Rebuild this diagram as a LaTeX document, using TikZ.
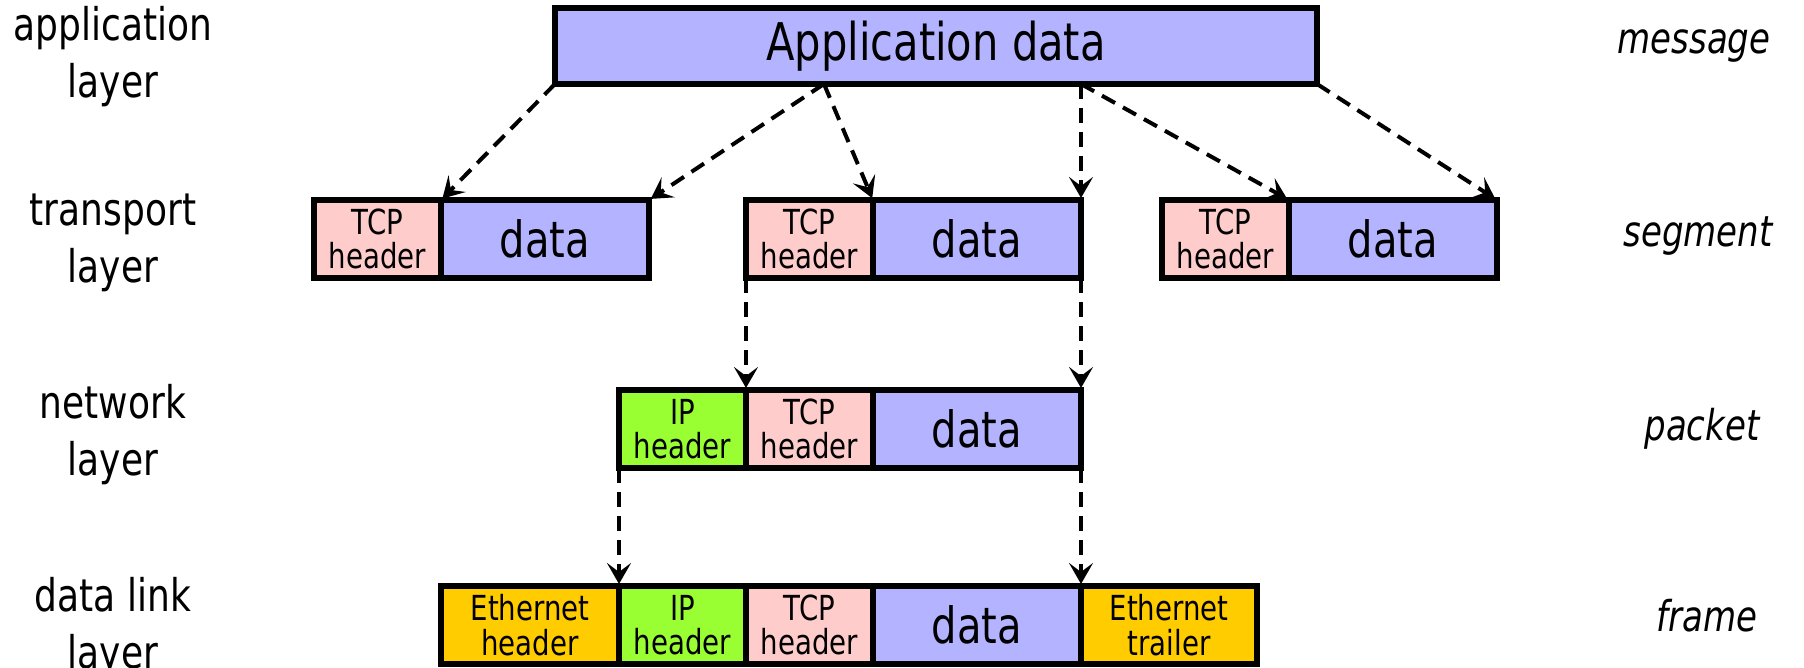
\documentclass[tikz,border=0pt]{standalone}
\usepackage{fontspec}
\setmainfont{DejaVu Sans}[FakeStretch=0.8]
\usetikzlibrary{arrows.meta}

\definecolor{dblue}{RGB}{179,179,255}
\definecolor{tpink}{RGB}{255,204,204}
\definecolor{ipgreen}{RGB}{153,255,51}
\definecolor{ethyellow}{RGB}{255,204,0}

\begin{document}
\begin{tikzpicture}[x=1pt,y=-1pt,
  cell/.style={draw=black, line width=5.5pt, inner sep=0pt, outer sep=0pt,
               anchor=north west, align=center, minimum height=78},
  hdr/.style={cell, font=\fontsize{34.5}{34.5}\selectfont},
  big/.style={cell, font=\fontsize{50}{55}\selectfont},
  layer/.style={align=center, font=\fontsize{45}{57}\selectfont},
  unit/.style={anchor=base, font=\fontsize{42.5}{46}\selectfont\itshape},
  flow/.style={line width=4pt, dash pattern=on 15pt off 9pt,
               -{Stealth[length=21pt,width=24pt,inset=9pt]}, shorten >=2pt}
]
\useasboundingbox (0,0) rectangle (1804,668);

% application layer: the message
\node[big, fill=dblue, minimum width=762, minimum height=76,
      font=\fontsize{52}{56}\selectfont] (app) at (555,8) {Application data};

% transport layer: three segments
\node[hdr, fill=tpink, minimum width=127] (s1h) at (314,200) {TCP\\header};
\node[big, fill=dblue, minimum width=208] (s1d) at (441,200) {data};
\node[hdr, fill=tpink, minimum width=127] (s2h) at (746,200) {TCP\\header};
\node[big, fill=dblue, minimum width=208] (s2d) at (873,200) {data};
\node[hdr, fill=tpink, minimum width=127] (s3h) at (1162,200) {TCP\\header};
\node[big, fill=dblue, minimum width=208] (s3d) at (1289,200) {data};

% network layer: the packet
\node[hdr, fill=ipgreen, minimum width=127] (nip) at (619,390) {IP\\header};
\node[hdr, fill=tpink, minimum width=127] (ntcp) at (746,390) {TCP\\header};
\node[big, fill=dblue, minimum width=208] (nd) at (873,390) {data};

% data link layer: the frame
\node[hdr, fill=ethyellow, minimum width=178] (feh) at (441,586) {Ethernet\\header};
\node[hdr, fill=ipgreen, minimum width=127] (fip) at (619,586) {IP\\header};
\node[hdr, fill=tpink, minimum width=127] (ftcp) at (746,586) {TCP\\header};
\node[big, fill=dblue, minimum width=208] (fd) at (873,586) {data};
\node[hdr, fill=ethyellow, minimum width=176] (fet) at (1081,586) {Ethernet\\trailer};

% split points along the bottom of the message
\coordinate (cutA) at (824,84);
\coordinate (cutB) at (app.south -| s2d.east);

% message split into segments
\draw[flow] (app.south west) -- (s1h.north east);
\draw[flow] (cutA) -- (s1d.north east);
\draw[flow] (cutA) -- (s2h.north east);
\draw[flow] (cutB) -- (s2d.north east);
\draw[flow] (cutB) -- (s3h.north east);
\draw[flow] (app.south east) -- (s3d.north east);

% segment into packet
\draw[flow] (s2h.south west) -- (ntcp.north west);
\draw[flow] (s2d.south east) -- (nd.north east);

% packet into frame
\draw[flow] (nip.south west) -- (fip.north west);
\draw[flow] (nd.south east) -- (fd.north east);

% layer names
\node[layer] (lapp) at (113,57) {application\\layer};
\node[layer] (ltra) at (113,243) {transport\\layer};
\node[layer] (lnet) at (113,435) {network\\layer};
\node[layer] (llnk) at (113,628) {data link\\layer};

% unit names
\node[unit] (umsg) at (1694,54) {message};
\node[unit] (useg) at (1698,247) {segment};
\node[unit] (upkt) at (1702,440) {packet};
\node[unit] (ufrm) at (1707,631) {frame};
\end{tikzpicture}
\end{document}
